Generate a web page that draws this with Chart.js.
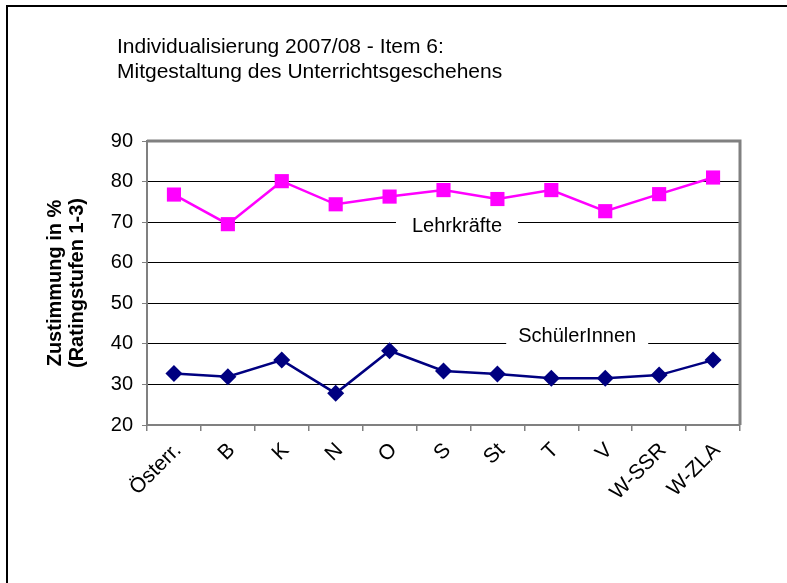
<!DOCTYPE html>
<html>
<head>
<meta charset="utf-8">
<script src="https://cdn.jsdelivr.net/npm/chart.js@4/dist/chart.umd.min.js"></script>
<style>
  html, body { margin: 0; padding: 0; background: #fff; }
  #wrap { position: relative; width: 787px; height: 583px; }
</style>
</head>
<body>
<div id="wrap"><canvas id="c" width="787" height="583"></canvas></div>
<script>
const categories = ['Österr.', 'B', 'K', 'N', 'O', 'S', 'St', 'T', 'V', 'W-SSR', 'W-ZLA'];
const lehrkraefte = [76.8, 69.5, 80.1, 74.4, 76.3, 77.9, 75.7, 77.9, 72.7, 76.9, 81.0];
const schueler = [32.7, 31.9, 36.0, 27.8, 38.3, 33.3, 32.6, 31.5, 31.5, 32.3, 36.0];
const yTicks = [20, 30, 40, 50, 60, 70, 80, 90];
const titleLines = ['Individualisierung 2007/08 - Item 6:', 'Mitgestaltung des Unterrichtsgeschehens'];
const yTitle = ['Zustimmung in %', '(Ratingstufen 1-3)'];
const seriesNames = ['Lehrkräfte', 'SchülerInnen'];

const FONT = 'Arial, "Liberation Sans", sans-serif';

const decor = {
  id: 'decor',
  beforeDraw(chart) {
    const ctx = chart.ctx;
    ctx.save();
    ctx.fillStyle = '#fff';
    ctx.fillRect(0, 0, chart.width, chart.height);
    ctx.strokeStyle = '#000';
    ctx.lineWidth = 2;
    ctx.beginPath();
    ctx.moveTo(7, chart.height);
    ctx.lineTo(7, 6);
    ctx.lineTo(chart.width, 6);
    ctx.stroke();
    ctx.fillStyle = '#000';
    ctx.font = '21px ' + FONT;
    ctx.textAlign = 'left';
    ctx.textBaseline = 'middle';
    ctx.fillText(titleLines[0], 117, 47);
    ctx.fillText(titleLines[1], 117, 72);
    ctx.restore();
  },
  beforeDatasetsDraw(chart) {
    const ctx = chart.ctx;
    const {top, right} = chart.chartArea;
    const xs = chart.scales.x, ys = chart.scales.y;
    ctx.save();
    ctx.strokeStyle = '#808080';
    ctx.lineWidth = 3;
    ctx.beginPath();
    ctx.moveTo(xs.left, top);
    ctx.lineTo(right, top);
    ctx.lineTo(right, ys.bottom);
    ctx.stroke();
    const step = xs.getPixelForValue(1) - xs.getPixelForValue(0);
    const labels = [
      {text: seriesNames[0], idx: 5.25, val: 69.0, w: 122},
      {text: seriesNames[1], idx: 7.48, val: 41.9, w: 142}
    ];
    ctx.font = '20px ' + FONT;
    ctx.textAlign = 'center';
    ctx.textBaseline = 'middle';
    labels.forEach(l => {
      const x = xs.getPixelForValue(0) + l.idx * step;
      const y = ys.getPixelForValue(l.val);
      ctx.fillStyle = '#fff';
      ctx.fillRect(x - l.w / 2, y - 11, l.w, 22);
      ctx.fillStyle = '#000';
      ctx.fillText(l.text, x, y);
    });
    ctx.restore();
  }
};

new Chart(document.getElementById('c'), {
  type: 'line',
  data: {
    labels: categories,
    datasets: [
      {
        label: seriesNames[0],
        data: lehrkraefte,
        borderColor: '#FF00FF',
        backgroundColor: '#FF00FF',
        borderWidth: 2.5,
        pointStyle: 'rect',
        pointRadius: 10,
        pointBorderWidth: 0,
        tension: 0
      },
      {
        label: seriesNames[1],
        data: schueler,
        borderColor: '#000080',
        backgroundColor: '#000080',
        borderWidth: 2.5,
        pointStyle: 'rectRot',
        pointRadius: 8.5,
        pointBorderWidth: 0,
        tension: 0
      }
    ]
  },
  options: {
    responsive: false,
    animation: false,
    devicePixelRatio: 1,
    layout: { padding: { left: 0, top: 141, right: 47, bottom: 0 } },
    plugins: {
      legend: { display: false },
      title: { display: false },
      tooltip: { enabled: false }
    },
    scales: {
      x: {
        type: 'category',
        offset: true,
        afterFit(s) { s.height = 158; },
        grid: {
          offset: true,
          drawOnChartArea: false,
          drawTicks: true,
          tickLength: 6,
          color: '#808080',
          lineWidth: 1.5
        },
        border: { color: '#808080', width: 2 },
        ticks: {
          color: '#000',
          font: { family: FONT, size: 21 },
          maxRotation: 45,
          minRotation: 45,
          padding: 7,
          labelOffset: 4,
          autoSkip: false
        }
      },
      y: {
        min: 20,
        max: 90,
        afterFit(s) { s.width = 147; },
        afterBuildTicks(s) { s.ticks = yTicks.map(v => ({value: v})); },
        grid: {
          color: ctx => (ctx.tick && (ctx.tick.value === 90 || ctx.tick.value === 20)) ? 'rgba(0,0,0,0)' : '#000',
          tickColor: '#808080',
          lineWidth: 1,
          drawTicks: true,
          tickLength: 5
        },
        border: { color: '#808080', width: 2 },
        ticks: {
          color: '#000',
          font: { family: FONT, size: 20 },
          padding: 9,
          stepSize: 10
        },
        title: {
          display: true,
          text: yTitle,
          color: '#000',
          font: { family: FONT, size: 20, weight: 'bold', lineHeight: 1.1 },
          padding: { top: 44, bottom: 0 }
        }
      }
    }
  },
  plugins: [decor]
});
</script>
</body>
</html>
